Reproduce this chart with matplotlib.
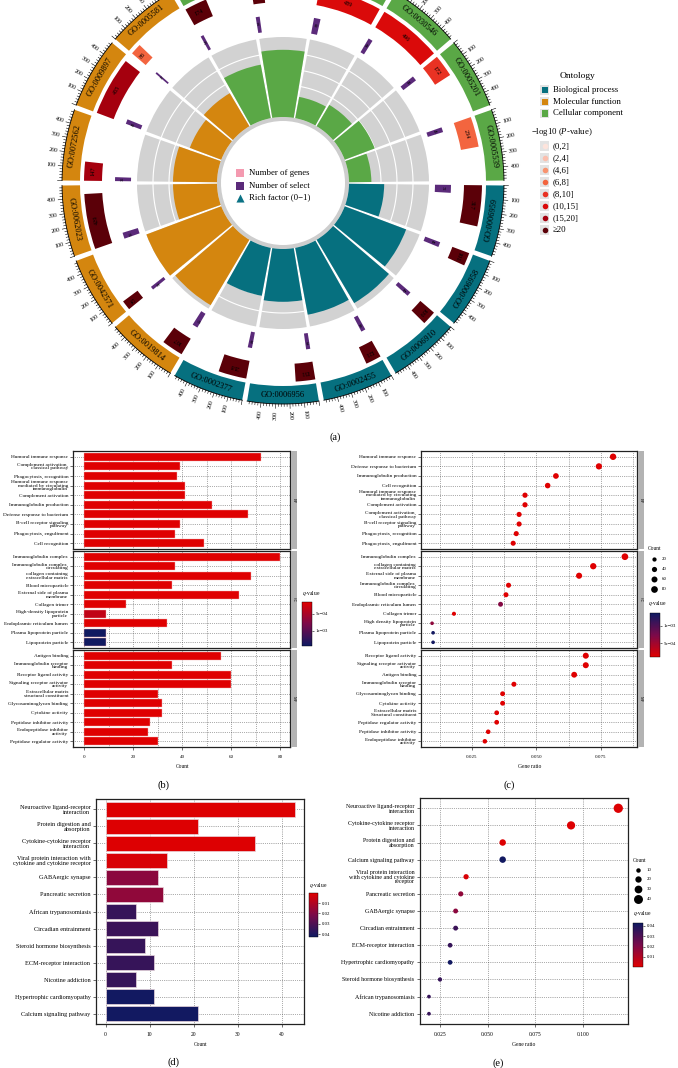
import numpy as np
import matplotlib
matplotlib.use("Agg")
import matplotlib.pyplot as plt
from matplotlib.colors import LinearSegmentedColormap, Normalize
from matplotlib.cm import ScalarMappable
from matplotlib.patches import Rectangle

plt.rcParams['font.family'] = ['Liberation Serif', 'DejaVu Serif']
plt.rcParams['mathtext.fontset'] = 'custom'
plt.rcParams['mathtext.rm'] = 'Liberation Serif'
plt.rcParams['mathtext.it'] = 'Liberation Serif:italic'

# ---------------- data: panel (a) GO circle ----------------
go_ids = ["GO:0006959", "GO:0006958", "GO:0006910", "GO:0002455", "GO:0006956", "GO:0002377",
          "GO:0019814", "GO:0042571", "GO:0062023", "GO:0072562", "GO:0009897", "GO:0005581",
          "GO:0003823", "GO:0034987", "GO:0048018", "GO:0030546", "GO:0005201", "GO:0005539"]
go_onto = ["BP"] * 6 + ["MF"] * 6 + ["CC"] * 6
gene_num = [317, 101, 109, 121, 151, 218, 167, 75, 429, 147, 455, 86, 174, 98, 489, 496, 172, 234]
gene_logp = [25, 24, 23, 26, 28, 30, 27, 21, 35, 17, 16, 7, 22, 25, 12, 11, 9, 7]
select_num = [72, 46, 40, 41, 38, 39, 50, 31, 56, 36, 43, 17, 28, 36, 60, 41, 45, 45]
rich_factor = [0.44, 0.82, 0.92, 0.85, 0.66, 0.61, 0.95, 1.0, 0.55, 0.55, 0.42, 0.48,
               0.68, 0.84, 0.27, 0.31, 0.40, 0.28]
onto_codes = ["BP", "MF", "CC"]
onto_names = ["Biological process", "Molecular function", "Cellular component"]
logp_edges = [0, 2, 4, 6, 8, 10, 15, 20]
logp_labels = ["(0,2]", "(2,4]", "(4,6]", "(6,8]", "(8,10]", "(10,15]", "(15,20]", "≥20"]
axis_ticks = [100, 200, 300, 400]

# ---------------- data: panel (b) GO bar ----------------
b_bp_terms = ["Humoral immune response", "Complement activation,\nclassical pathway",
              "Phagocytosis, recognition",
              "Humoral immune response\nmediated by circulating\nimmunoglobulin",
              "Complement activation", "Immunoglobulin production", "Defense response to bacterium",
              "B-cell receptor signaling\npathway", "Phagocytosis, engulfment", "Cell recognition"]
b_bp_count = [72, 39, 38, 41, 41, 52, 67, 39, 37, 49]
b_bp_q = [1.6e-4] * 10
b_cc_terms = ["Immunoglobulin complex", "Immunoglobulin complex,\ncirculating",
              "collagen containing\nextracellular matrix", "Blood microparticle",
              "External side of plasma\nmembrane", "Collagen trimer",
              "High-density lipoprotein\nparticle", "Endoplasmic reticulum lumen",
              "Plasma lipoprotein particle", "Lipoprotein particle"]
b_cc_count = [80, 37, 68, 36, 63, 17, 9, 34, 9, 9]
b_cc_q = [1.6e-4] * 6 + [3.5e-4, 1.6e-4, 1.42e-3, 1.42e-3]
b_mf_terms = ["Antigen binding", "Immunoglobulin receptor\nbinding", "Receptor ligand activity",
              "Signaling receptor activator\nactivity", "Extracellular matrix\nstructural constituent",
              "Glycosaminoglycan binding", "Cytokine activity", "Peptidase inhibitor activity",
              "Endopeptidase inhibitor\nactivity", "Peptidase regulator activity"]
b_mf_count = [56, 36, 60, 60, 30, 32, 32, 27, 26, 30]
b_mf_q = [1.6e-4] * 10

# ---------------- data: panel (c) GO dot ----------------
c_bp_terms = ["Humoral immune response", "Defense response to bacterium", "Immunoglobulin production",
              "Cell recognition", "Humoral immune response\nmediated by circulating\nimmunoglobulin",
              "Complement activation", "Complement activation,\nclassical pathway",
              "B-cell receptor signaling\npathway", "Phagocytosis, recognition", "Phagocytosis, engulfment"]
c_bp_ratio = [0.0798, 0.0743, 0.0576, 0.0544, 0.0456, 0.0456, 0.0433, 0.0433, 0.0422, 0.0410]
c_bp_count = [72, 67, 52, 49, 41, 41, 39, 39, 38, 37]
c_bp_q = [1e-4] * 10
c_cc_terms = ["Immunoglobulin complex", "collagen containing\nextracellular matrix",
              "External side of plasma\nmembrane", "Immunoglobulin complex,\ncirculating",
              "Blood microparticle", "Endoplasmic reticulum lumen", "Collagen trimer",
              "High density lipoprotein\nparticle", "Plasma lipoprotein particle", "Lipoprotein particle"]
c_cc_ratio = [0.0844, 0.0721, 0.0666, 0.0392, 0.0382, 0.0361, 0.0180, 0.0095, 0.0099, 0.0099]
c_cc_count = [80, 68, 63, 37, 36, 34, 17, 9, 9, 9]
c_cc_q = [1e-4] * 5 + [6.7e-4, 1e-4, 6.1e-4, 1.34e-3, 1.34e-3]
c_mf_terms = ["Receptor ligand activity", "Signaling receptor activator\nactivity", "Antigen binding",
              "Immunoglobulin receptor\nbinding", "Glycosaminoglycan binding", "Cytokine activity",
              "Extracellular matrix\nStructural constituent", "Peptidase regulator activity",
              "Peptidase inhibitor activity", "Endopeptidase inhibitor\nactivity"]
c_mf_ratio = [0.0692, 0.0692, 0.0647, 0.0413, 0.0369, 0.0369, 0.0346, 0.0346, 0.0313, 0.0300]
c_mf_count = [60, 60, 56, 36, 32, 32, 30, 30, 27, 26]
c_mf_q = [1e-4] * 10

# ---------------- data: panel (d) KEGG bar ----------------
d_terms = ["Neuroactive ligand-receptor\ninteraction", "Protein digestion and\nabsorption",
           "Cytokine-cytokine receptor\ninteraction",
           "Viral protein interaction with\ncytokine and cytokine receptor",
           "GABAergic synapse", "Pancreatic secretion", "African trypanosomiasis",
           "Circadian entrainment", "Steroid hormone biosynthesis", "ECM-receptor interaction",
           "Nicotine addiction", "Hypertrophic cardiomyopathy", "Calcium signaling pathway"]
d_count = [43, 21, 34, 14, 12, 13, 7, 12, 9, 11, 7, 11, 21]
d_q = [0.001, 0.001, 0.001, 0.002, 0.018, 0.017, 0.035, 0.034, 0.035, 0.035, 0.035, 0.042, 0.042]

# ---------------- data: panel (e) KEGG dot ----------------
e_terms = ["Neuroactive ligand-receptor\ninteraction", "Cytokine-cytokine receptor\ninteraction",
           "Protein digestion and\nabsorption", "Calcium signaling pathway",
           "Viral protein interaction\nwith cytokine and cytokine\nreceptor", "Pancreatic secretion",
           "GABAergic synapse", "Circadian entrainment", "ECM-receptor interaction",
           "Hypertrophic cardiomyopathy", "Steroid hormone biosynthesis", "African trypanosomiasis",
           "Nicotine addiction"]
e_ratio = [0.1186, 0.0938, 0.0579, 0.0579, 0.0387, 0.0359, 0.0332, 0.0332, 0.0303, 0.0303,
           0.0250, 0.0192, 0.0192]
e_count = [43, 34, 21, 21, 14, 13, 12, 12, 11, 11, 9, 7, 7]
e_q = [0.001, 0.001, 0.001, 0.042, 0.002, 0.017, 0.018, 0.034, 0.035, 0.042, 0.035, 0.035, 0.035]

# ---------------- styles ----------------
onto_colors = {"BP": "#06707f", "MF": "#d4860f", "CC": "#5aa846"}
logp_colors = ['#fde4dc', '#fbbfae', '#f8936f', '#f3653f', '#e93223', '#da0a0a', '#a5000e', '#5b0008']
purple = "#5b2a7a"
cmap = LinearSegmentedColormap.from_list("rb", ["#e00000", "#7a0a4a", "#0e1a62"])
grid_kw = dict(linestyle=(0, (1, 2)), color="#333333", linewidth=0.45)

W, H, DPI = 678, 1068, 100
fig = plt.figure(figsize=(W / DPI, H / DPI), dpi=DPI)


def box(x0, y0, x1, y1):
    return [x0 / W, 1 - y1 / H, (x1 - x0) / W, (y1 - y0) / H]


def upright(a):
    a = (a + 180) % 360 - 180
    fl = False
    if a > 90:
        a -= 180
        fl = True
    elif a <= -90:
        a += 180
        fl = True
    return a, fl


# ================= panel (a) =================
cx, cy, RA = 283, 183, 252
axp = fig.add_axes(box(cx - RA, cy - RA, cx + RA, cy + RA), projection='polar')
axp.set_theta_zero_location('E')
axp.set_theta_direction(-1)
axp.set_ylim(0, RA)
axp.axis('off')
rad = np.radians
n = len(go_ids)
sec = 360.0 / n
gap = 0.65
span = sec - 2 * gap
gmax = max(gene_num)

axp.bar(0, 4, width=2 * np.pi, bottom=62, align='edge', color='#cdcdcd', lw=0)
for i in range(n):
    t0 = i * sec + gap
    col = onto_colors[go_onto[i]]
    # outer id band
    axp.bar(rad(t0), 18, width=rad(span), bottom=203, align='edge', color=col, lw=0)
    tc = t0 + span / 2
    rot, _ = upright(-tc - 90)
    axp.text(rad(tc), 212, go_ids[i], rotation=rot, ha='center', va='center',
             rotation_mode='anchor', fontsize=6, color='black')
    # axis on outer edge
    tt = np.linspace(rad(t0), rad(t0 + span), 40)
    axp.plot(tt, np.full_like(tt, 221), color='black', lw=0.6)
    for v in range(0, gmax + 1, 20):
        th = rad(t0 + v / gmax * span)
        L = 4.5 if v % 100 == 0 else 2.5
        axp.plot([th, th], [221, 221 + L], color='black', lw=0.4)
    for v in axis_ticks:
        tv = t0 + v / gmax * span
        rr, fl = upright(-tv)
        axp.text(rad(tv), 228, str(v), rotation=rr, ha='right' if fl else 'left', va='center',
                 rotation_mode='anchor', fontsize=4.3)
    # number of genes
    k = int(np.searchsorted(logp_edges, gene_logp[i], side='left') - 1)
    w = gene_num[i] / gmax * span
    axp.bar(rad(t0), 18, width=rad(w), bottom=181, align='edge', color=logp_colors[k], lw=0)
    tm = t0 + w / 2
    axp.text(rad(tm), 190, str(gene_num[i]), rotation=-tm - 90, ha='center', va='center',
             rotation_mode='anchor', fontsize=4.5, color='black')
    # number of select
    ws = select_num[i] / gmax * span
    axp.bar(rad(t0), 16, width=rad(ws), bottom=152, align='edge', color=purple, lw=0)
    tm = t0 + ws / 2
    axp.text(rad(tm), 160, str(select_num[i]), rotation=-tm - 90, ha='center', va='center',
             rotation_mode='anchor', fontsize=3.2, color='black')
    # rich factor
    axp.bar(rad(t0), 80, width=rad(span), bottom=66, align='edge', color='#d2d2d2', lw=0, zorder=1)
    for kk in range(1, 5):
        axp.plot(tt, np.full_like(tt, 66 + 16 * kk), color='white', lw=0.8, zorder=1.05)
    axp.bar(rad(t0), 80 * rich_factor[i], width=rad(span), bottom=66, align='edge', color=col,
            lw=0, zorder=1.1)

# overlay axes for legends / annotations
ao = fig.add_axes([0, 0, 1, 1])
ao.set_xlim(0, W)
ao.set_ylim(H, 0)
ao.axis('off')
ao.patch.set_alpha(0)

# center legend
ao.scatter([240], [173], marker='s', s=30, color='#f49ab0', lw=0)
ao.scatter([240], [185.5], marker='s', s=30, color=purple, lw=0)
ao.scatter([240], [197.5], marker='^', s=34, color='#0b7285', lw=0)
for y, t in zip([173, 185.5, 197.5], ["Number of genes", "Number of select", "Rich factor (0\u22121)"]):
    ao.text(249, y, t, fontsize=6.3, va='center', ha='left')

# right legend
ao.text(577, 76, "Ontology", fontsize=6.8, ha='center', va='center')
for j, code in enumerate(onto_codes):
    y = 90 + 11.7 * j
    ao.add_patch(Rectangle((540, y - 4.7), 9.4, 9.4, color='#e3e3e3', lw=0))
    ao.add_patch(Rectangle((541.5, y - 3.2), 6.4, 6.4, color=onto_colors[code], lw=0))
    ao.text(553, y, onto_names[j], fontsize=6.3, va='center', ha='left')
ao.text(531, 132, r"$-$log10 ($P$-value)", fontsize=6.3, va='center', ha='left')
for k, lab in enumerate(logp_labels):
    y = 146 + 12 * k
    ao.add_patch(Rectangle((540, y - 4.7), 9.4, 9.4, color='#e3e3e3', lw=0))
    ao.scatter([544.7], [y], s=16, color=logp_colors[k], lw=0)
    ao.text(553, y, lab, fontsize=6.3, va='center', ha='left')
ao.text(335, 437, "(a)", fontsize=7.5, ha='center', va='center')

# ================= panel (b) =================
rows = [(451, 549), (551, 648), (650, 747)]
b_groups = [(b_bp_terms, b_bp_count, b_bp_q, "BP"), (b_cc_terms, b_cc_count, b_cc_q, "CC"),
            (b_mf_terms, b_mf_count, b_mf_q, "MF")]
norm_b = Normalize(1.5e-4, 1.44e-3)


def style_frame(ax, lw=0.9):
    for s in ax.spines.values():
        s.set_linewidth(lw)
        s.set_color('#222222')


def strip(x0, x1, y0, y1, code):
    s = fig.add_axes(box(x0, y0, x1, y1))
    s.set_facecolor('#b3b3b3')
    s.set_xticks([])
    s.set_yticks([])
    for sp in s.spines.values():
        sp.set_visible(False)
    s.text(0.5, 0.5, code, rotation=-90, fontsize=3, ha='center', va='center', transform=s.transAxes)


for k, (terms, counts, qs, code) in enumerate(b_groups):
    y0, y1 = rows[k]
    ax = fig.add_axes(box(73, y0, 290, y1))
    yy = np.arange(len(terms))
    ax.barh(yy, counts, height=0.85, color=cmap(norm_b(np.array(qs))), edgecolor='#f4b0b0',
            linewidth=0.3, zorder=2)
    ax.set_ylim(len(terms) - 0.4, -0.6)
    ax.set_xlim(-4.5, 84)
    ax.set_yticks(yy)
    ax.set_yticklabels(terms, fontsize=3.8, linespacing=0.85)
    ax.set_xticks([0, 20, 40, 60, 80])
    ax.set_xticks([10, 30, 50, 70], minor=True)
    ax.grid(True, which='both', axis='x', **grid_kw)
    ax.grid(True, which='major', axis='y', **grid_kw)
    ax.set_axisbelow(True)
    style_frame(ax)
    ax.tick_params(axis='y', length=2, width=0.4, pad=1.5)
    if k < 2:
        ax.tick_params(axis='x', which='both', length=0, labelbottom=False)
    else:
        ax.tick_params(axis='x', which='major', labelsize=3.6, length=2, width=0.4, pad=4)
        ax.tick_params(axis='x', which='minor', length=0)
    strip(291, 297, y0, y1, code)

cax = fig.add_axes(box(302, 602, 312, 646))
cb = fig.colorbar(ScalarMappable(norm=norm_b, cmap=cmap), cax=cax)
cb.set_ticks([5e-4, 1e-3])
cb.set_ticklabels(["5e\u221204", "1e\u221203"])
cax.invert_yaxis()
cb.outline.set_linewidth(0.3)
cax.tick_params(labelsize=3.5, length=1.5, width=0.4, pad=1)
ao.text(302, 593, r"$q$-value", fontsize=4, ha='left', va='center')
ao.text(183, 767, "Count", fontsize=4, ha='center', va='center')
ao.text(163, 785, "(b)", fontsize=7.5, ha='center', va='center')

# ================= panel (c) =================
c_groups = [(c_bp_terms, c_bp_ratio, c_bp_count, c_bp_q, "BP"),
            (c_cc_terms, c_cc_ratio, c_cc_count, c_cc_q, "CC"),
            (c_mf_terms, c_mf_ratio, c_mf_count, c_mf_q, "MF")]
norm_c = Normalize(9e-5, 1.38e-3)


def size_c(cnt):
    d = np.sqrt(9 + 0.45 * np.asarray(cnt, float))
    return (d * 0.72) ** 2


for k, (terms, ratio, counts, qs, code) in enumerate(c_groups):
    y0, y1 = rows[k]
    ax = fig.add_axes(box(421, y0, 637, y1))
    yy = np.arange(len(terms))
    ax.scatter(ratio, yy, s=size_c(counts), c=qs, cmap=cmap, norm=norm_c, lw=0, zorder=3)
    ax.set_ylim(len(terms) - 0.4, -0.6)
    ax.set_xlim(0.0052, 0.0891)
    ax.set_yticks(yy)
    ax.set_yticklabels(terms, fontsize=3.8, linespacing=0.85)
    ax.set_xticks([0.025, 0.05, 0.075])
    ax.set_xticklabels(["0.025", "0.050", "0.075"])
    ax.set_xticks([0.0125, 0.0375, 0.0625, 0.0875], minor=True)
    ax.grid(True, which='both', axis='x', **grid_kw)
    ax.grid(True, which='major', axis='y', **grid_kw)
    ax.set_axisbelow(True)
    style_frame(ax)
    ax.tick_params(axis='y', length=2, width=0.4, pad=1.5)
    if k < 2:
        ax.tick_params(axis='x', which='both', length=0, labelbottom=False)
    else:
        ax.tick_params(axis='x', which='major', labelsize=3.6, length=2, width=0.4, pad=4)
        ax.tick_params(axis='x', which='minor', length=0)
    strip(638, 644, y0, y1, code)

ao.text(648, 549, "Count", fontsize=4, ha='left', va='center')
for y, cnt in zip([559, 569, 579, 589], [20, 40, 60, 80]):
    ao.scatter([654], [y], s=size_c([cnt]), color='black', lw=0)
    ao.text(662, y, str(cnt), fontsize=3.5, va='center', ha='left')
ao.text(648, 604, r"$q$-value", fontsize=4, ha='left', va='center')
cax = fig.add_axes(box(650, 613, 660, 657))
cb = fig.colorbar(ScalarMappable(norm=norm_c, cmap=cmap), cax=cax)
cb.set_ticks([5e-4, 1e-3])
cb.set_ticklabels(["5e\u221204", "1e\u221203"])
cb.outline.set_linewidth(0.3)
cax.tick_params(labelsize=3.5, length=1.5, width=0.4, pad=1)
ao.text(530, 767, "Gene ratio", fontsize=4, ha='center', va='center')
ao.text(509, 785, "(c)", fontsize=7.5, ha='center', va='center')

# ================= panel (d) =================
norm_k = Normalize(0.0003, 0.0429)
ax = fig.add_axes(box(96, 799, 304, 1024))
yy = np.arange(len(d_terms))
ax.barh(yy, d_count, height=0.9, color=cmap(norm_k(np.array(d_q))), edgecolor='#e9d6dc',
        linewidth=0.5, zorder=2)
ax.set_ylim(len(d_terms) - 0.4, -0.6)
ax.set_xlim(-2.2, 45.07)
ax.set_yticks(yy)
ax.set_yticklabels(d_terms, fontsize=4.5, linespacing=0.95)
ax.set_xticks([0, 10, 20, 30, 40])
ax.grid(True, which='major', axis='both', **grid_kw)
ax.set_axisbelow(True)
style_frame(ax)
ax.tick_params(axis='y', length=2, width=0.4, pad=2)
ax.tick_params(axis='x', labelsize=4, length=2, width=0.4, pad=4)
cax = fig.add_axes(box(309, 893, 318, 937))
cb = fig.colorbar(ScalarMappable(norm=norm_k, cmap=cmap), cax=cax)
cb.set_ticks([0.01, 0.02, 0.03, 0.04])
cb.set_ticklabels(["0.01", "0.02", "0.03", "0.04"])
cax.invert_yaxis()
cb.outline.set_linewidth(0.3)
cax.tick_params(labelsize=3.5, length=1.5, width=0.4, pad=1)
ao.text(309, 886, r"$q$-value", fontsize=4, ha='left', va='center')
ao.text(200, 1045, "Count", fontsize=4, ha='center', va='center')
ao.text(174, 1062, "(d)", fontsize=7.5, ha='center', va='center')

# ================= panel (e) =================


def size_e(cnt):
    d = np.sqrt(2.0 * np.asarray(cnt, float))
    return (d * 0.72) ** 2


ax = fig.add_axes(box(420, 798, 628, 1024))
yy = np.arange(len(e_terms))
ax.scatter(e_ratio, yy, s=size_e(e_count), c=e_q, cmap=cmap, norm=norm_k, lw=0, zorder=3)
ax.set_ylim(len(e_terms) - 0.4, -0.6)
ax.set_xlim(0.0145, 0.1237)
ax.set_yticks(yy)
ax.set_yticklabels(e_terms, fontsize=4.3, linespacing=0.95)
ax.set_xticks([0.025, 0.05, 0.075, 0.1])
ax.set_xticklabels(["0.025", "0.050", "0.075", "0.100"])
ax.grid(True, which='major', axis='both', **grid_kw)
ax.set_axisbelow(True)
style_frame(ax)
ax.tick_params(axis='y', length=2, width=0.4, pad=2)
ax.tick_params(axis='x', labelsize=4, length=2, width=0.4, pad=4)

ao.text(633, 860, "Count", fontsize=4, ha='left', va='center')
for y, cnt in zip([870, 879, 888.5, 899], [10, 20, 30, 40]):
    ao.scatter([638], [y], s=size_e([cnt]), color='black', lw=0)
    ao.text(647, y, str(cnt), fontsize=3.5, va='center', ha='left')
ao.text(633, 914, r"$q$-value", fontsize=4, ha='left', va='center')
cax = fig.add_axes(box(633, 923, 643, 967))
cb = fig.colorbar(ScalarMappable(norm=norm_k, cmap=cmap), cax=cax)
cb.set_ticks([0.01, 0.02, 0.03, 0.04])
cb.set_ticklabels(["0.01", "0.02", "0.03", "0.04"])
cb.outline.set_linewidth(0.3)
cax.tick_params(labelsize=3.5, length=1.5, width=0.4, pad=1)
ao.text(524, 1045, "Gene ratio", fontsize=4, ha='center', va='center')
ao.text(498, 1063, "(e)", fontsize=7.5, ha='center', va='center')

fig.savefig("out.png", dpi=DPI)
